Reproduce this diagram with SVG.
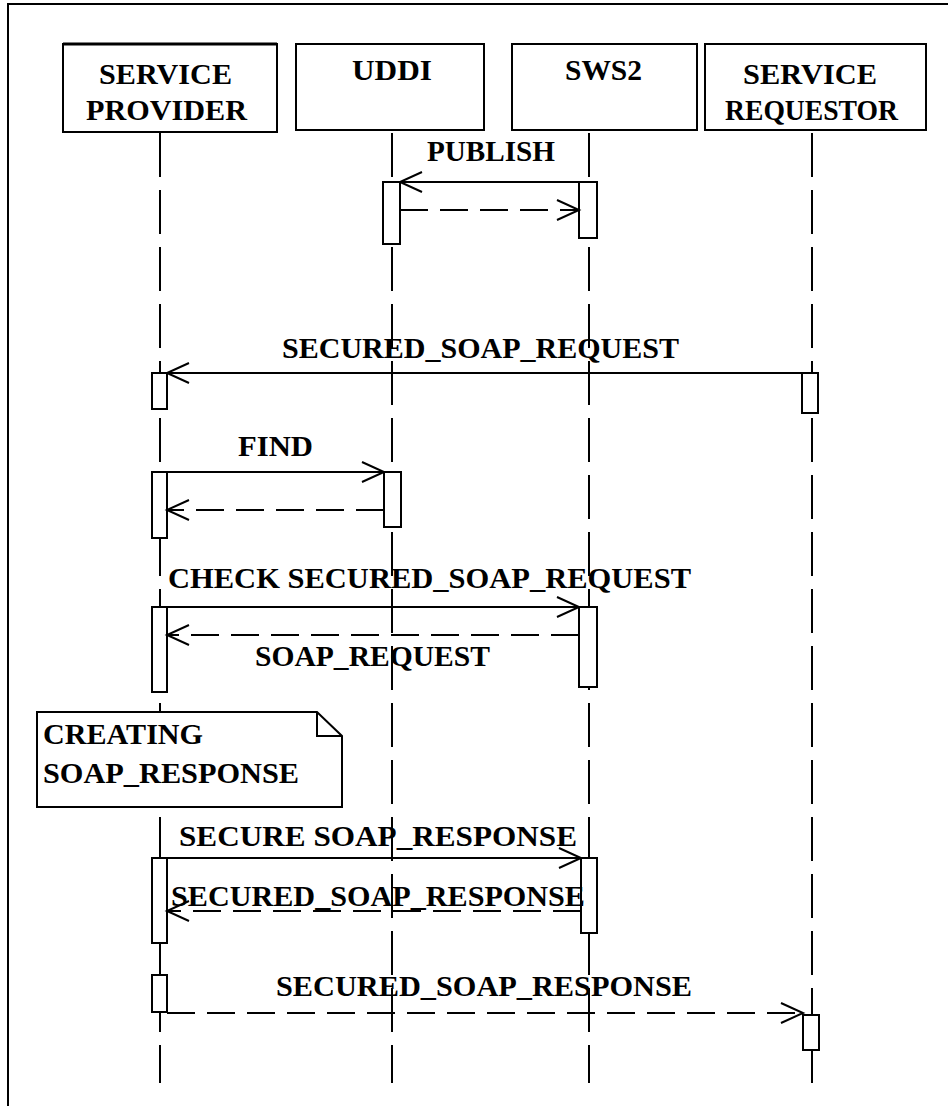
<svg xmlns="http://www.w3.org/2000/svg" width="948" height="1106" viewBox="0 0 948 1106">
<style>
text{font-family:"Liberation Serif","Times New Roman",serif;font-weight:bold;font-size:30px;fill:#000}
.box{fill:#fff;stroke:#000;stroke-width:2}
.life{stroke:#000;stroke-width:2;stroke-dasharray:44 13;fill:none}
.act{fill:#fff;stroke:#000;stroke-width:2}
.msg{stroke:#000;stroke-width:2;fill:none;marker-end:url(#open)}
.ret{stroke:#000;stroke-width:2;fill:none;stroke-dasharray:28 12;marker-end:url(#open)}
</style>
<defs>
<marker id="open" markerUnits="userSpaceOnUse" markerWidth="26" markerHeight="24" refX="23" refY="12" orient="auto">
<path d="M1,2 L23,12 L1,22" fill="none" stroke="#000" stroke-width="2"/>
</marker>
</defs>
<rect x="8" y="4" width="960" height="1120" fill="#fff" stroke="#000" stroke-width="2"/>

<g id="lifelines">
<line class="life" x1="160" y1="133" x2="160" y2="1083"/>
<line class="life" x1="392" y1="133" x2="392" y2="1083"/>
<line class="life" x1="589" y1="133" x2="589" y2="1083"/>
<line class="life" x1="812" y1="133" x2="812" y2="1083"/>
</g>

<g id="service-provider">
<rect class="box" x="63" y="44" width="214" height="88"/>
<line x1="63" y1="44" x2="277" y2="44" stroke="#000" stroke-width="3"/>
<text x="99" y="84" textLength="133" lengthAdjust="spacingAndGlyphs">SERVICE</text>
<text x="86" y="120" textLength="161" lengthAdjust="spacingAndGlyphs">PROVIDER</text>
</g>
<g id="uddi">
<rect class="box" x="296" y="44" width="188" height="86"/>
<text x="352" y="80" textLength="80" lengthAdjust="spacingAndGlyphs">UDDI</text>
</g>
<g id="sws2">
<rect class="box" x="512" y="44" width="185" height="86"/>
<text x="565" y="80" textLength="77" lengthAdjust="spacingAndGlyphs">SWS2</text>
</g>
<g id="service-requestor">
<rect class="box" x="705" y="44" width="221" height="86"/>
<text x="743" y="84" textLength="134" lengthAdjust="spacingAndGlyphs">SERVICE</text>
<text x="725" y="120" textLength="173" lengthAdjust="spacingAndGlyphs">REQUESTOR</text>
</g>

<g id="activations">
<rect class="act" x="383" y="182" width="17" height="62"/>
<rect class="act" x="579" y="182" width="18" height="56"/>
<rect class="act" x="152" y="373" width="15" height="36"/>
<rect class="act" x="802" y="373" width="16" height="40"/>
<rect class="act" x="152" y="472" width="15" height="66"/>
<rect class="act" x="384" y="472" width="17" height="55"/>
<rect class="act" x="152" y="607" width="15" height="85"/>
<rect class="act" x="579" y="607" width="18" height="80"/>
<rect class="act" x="152" y="858" width="15" height="85"/>
<rect class="act" x="581" y="858" width="16" height="75"/>
<rect class="act" x="152" y="975" width="15" height="37"/>
<rect class="act" x="803" y="1015" width="16" height="35"/>
</g>

<g id="note">
<path d="M37,712 L317,712 L342,736 L342,807 L37,807 Z" fill="#fff" stroke="#000" stroke-width="2"/>
<path d="M317,712 L317,736 L342,736" fill="none" stroke="#000" stroke-width="2"/>
<text x="43" y="744" textLength="160" lengthAdjust="spacingAndGlyphs">CREATING</text>
<text x="43" y="783" textLength="256" lengthAdjust="spacingAndGlyphs">SOAP_RESPONSE</text>
</g>

<g id="connectors">
<line class="msg" x1="579" y1="182" x2="400" y2="182"/>
<line class="ret" x1="400" y1="210" x2="579" y2="210"/>
<line class="msg" x1="802" y1="373" x2="167" y2="373"/>
<line class="msg" x1="167" y1="472" x2="384" y2="472"/>
<line class="ret" x1="384" y1="510" x2="167" y2="510"/>
<line class="msg" x1="167" y1="607" x2="579" y2="607"/>
<line class="ret" x1="579" y1="635" x2="167" y2="635"/>
<line class="msg" x1="167" y1="858" x2="581" y2="858"/>
<line class="ret" x1="581" y1="911" x2="167" y2="911"/>
<line class="ret" x1="167" y1="1013" x2="803" y2="1013"/>
</g>

<g id="labels">
<text x="427" y="161" textLength="128" lengthAdjust="spacingAndGlyphs">PUBLISH</text>
<text x="282" y="358" textLength="397" lengthAdjust="spacingAndGlyphs">SECURED_SOAP_REQUEST</text>
<text x="238" y="456" textLength="75" lengthAdjust="spacingAndGlyphs">FIND</text>
<text x="168" y="588" textLength="523" lengthAdjust="spacingAndGlyphs">CHECK SECURED_SOAP_REQUEST</text>
<text x="255" y="666" textLength="235" lengthAdjust="spacingAndGlyphs">SOAP_REQUEST</text>
<text x="179" y="846" textLength="398" lengthAdjust="spacingAndGlyphs">SECURE SOAP_RESPONSE</text>
<text x="171" y="906" textLength="414" lengthAdjust="spacingAndGlyphs">SECURED_SOAP_RESPONSE</text>
<text x="276" y="996" textLength="416" lengthAdjust="spacingAndGlyphs">SECURED_SOAP_RESPONSE</text>
</g>
</svg>
